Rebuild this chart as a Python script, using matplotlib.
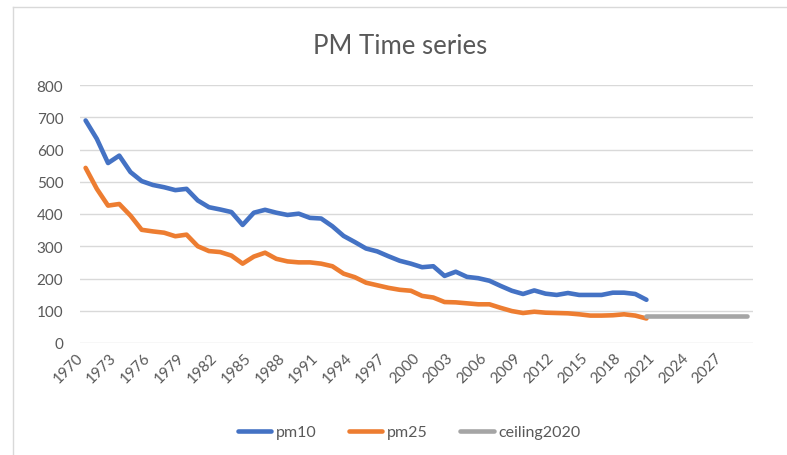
import matplotlib.pyplot as plt
from matplotlib.lines import Line2D

# Category axis (years) and series values
years = list(range(1970, 2030))

pm10 = [690, 633, 558, 581, 530, 502, 490, 483, 474, 478,
        442, 421, 414, 406, 366, 404, 413, 404, 397, 401,
        388, 386, 362, 332, 313, 293, 284, 269, 255, 246,
        235, 238, 208, 221, 205, 201, 193, 177, 162, 152,
        163, 153, 149, 155, 149, 149, 149, 156, 156, 152,
        134]

pm25 = [543, 478, 426, 431, 395, 351, 346, 342, 331, 336,
        300, 285, 282, 271, 246, 268, 280, 261, 253, 250,
        250, 246, 238, 215, 204, 187, 179, 171, 165, 162,
        146, 141, 127, 126, 123, 120, 120, 109, 99, 93,
        97, 94, 93, 92, 89, 85, 85, 86, 89, 85,
        76]

ceiling2020 = [84, 84, 84, 84, 84, 84, 84, 84, 84, 84]

plt.rcParams['font.family'] = ['Lato', 'DejaVu Sans']
text_color = '#595959'

fig = plt.figure(figsize=(7.87, 4.56), dpi=100)
ax = fig.add_axes([80 / 787, 1 - 344 / 456, (753 - 80) / 787, (344 - 86) / 456])

ax.plot(years[:len(pm10)], pm10, color='#4472C4', lw=3.3, label='pm10', solid_capstyle='round')
ax.plot(years[:len(pm25)], pm25, color='#ED7D31', lw=3.3, label='pm25', solid_capstyle='round')
ax.plot(years[len(pm10) - 1:], ceiling2020, color='#A5A5A5', lw=3.3, label='ceiling2020', solid_capstyle='round')

ax.set_xlim(1969.5, 2029.5)
ax.set_ylim(0, 800)
ax.set_yticks(range(0, 801, 100))
ax.set_xticks(years[::3])
ax.set_xticklabels([str(y) for y in years[::3]], rotation=45, ha='right')

ax.grid(axis='y', color='#D9D9D9', lw=1)
ax.set_axisbelow(True)
for s in ax.spines.values():
    s.set_visible(False)
ax.tick_params(axis='both', length=0, colors=text_color, labelsize=11)
ax.tick_params(axis='x', pad=5)
ax.tick_params(axis='y', pad=12)

fig.text(0.508, 1 - 46 / 456, 'PM Time series', ha='center', va='center',
         fontsize=18.5, color=text_color)

fig.legend(loc='center', bbox_to_anchor=(0.52, 1 - 433 / 456), ncol=3, frameon=False,
           fontsize=11.5, labelcolor=text_color, handlelength=2.1, columnspacing=2.0,
           handletextpad=0.3)

# chart area border, as in the screenshot
fig.add_artist(Line2D([13 / 787, 1], [1 - 8 / 456, 1 - 8 / 456], color='#D9D9D9', lw=1))
fig.add_artist(Line2D([13 / 787, 13 / 787], [0, 1 - 8 / 456], color='#D9D9D9', lw=1))

fig.savefig('out.png', dpi=100)
